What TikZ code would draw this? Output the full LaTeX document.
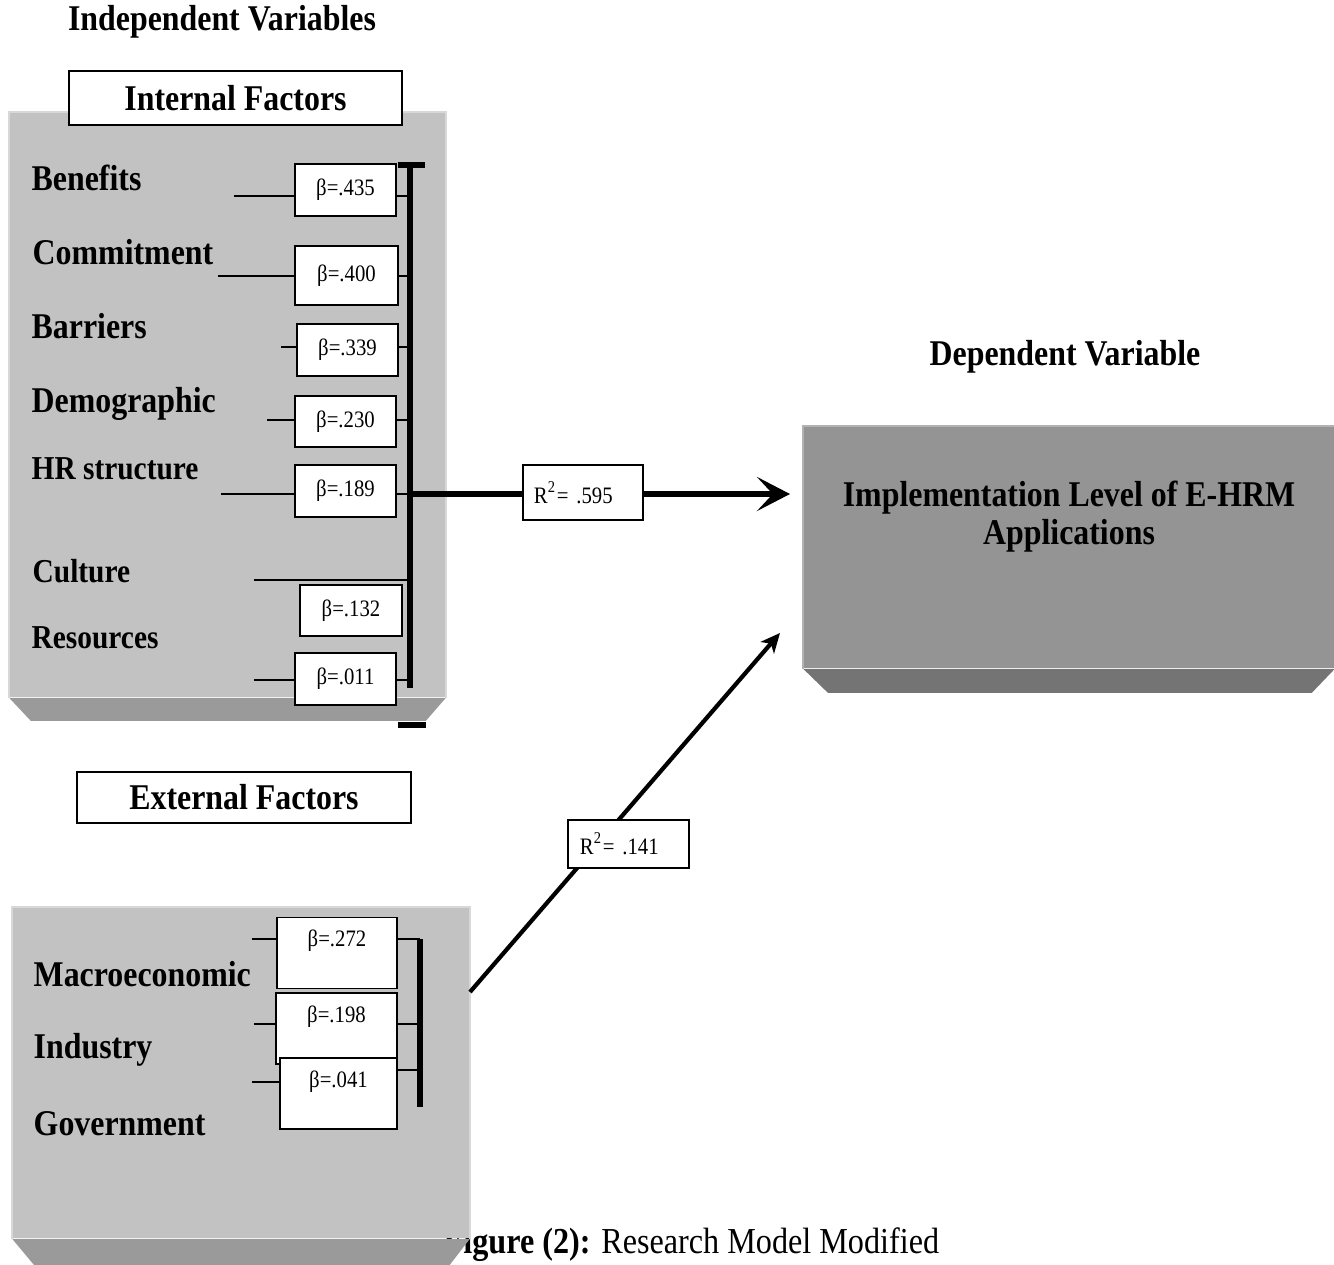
\documentclass[tikz,border=0pt]{standalone}
\usepackage{fontspec}
\setmainfont{Liberation Serif}[FakeStretch=0.88]
\usepackage{xcolor}
\usetikzlibrary{arrows.meta,positioning}

\definecolor{panelgray}{HTML}{C2C2C2}
\definecolor{panelshade}{HTML}{9A9A9A}
\definecolor{panellight}{HTML}{D8D8D8}
\definecolor{depgray}{HTML}{949494}
\definecolor{depshade}{HTML}{747474}
\newcommand{\factorfont}{\fontsize{10.3}{10.8}\selectfont\bfseries}
\newcommand{\smallfactorfont}{\fontsize{9.5}{10.8}\selectfont\bfseries}
\newcommand{\coeffont}{\fontsize{6.7}{8}\selectfont}
\newcommand{\capfont}{\fontsize{10.4}{12}\selectfont}

\begin{document}
\begin{tikzpicture}[
    x=0.01cm, y=-0.01cm,
    panel/.style={fill=panelgray, inner sep=0pt},
    betabox/.style={draw, fill=white, line width=0.5pt, inner sep=0pt, font=\coeffont},
    topbeta/.style={betabox, text height=0.29cm, text depth=0.42cm},
    rbox/.style={draw, fill=white, line width=0.5pt, inner ysep=0pt, align=left, font=\coeffont},
    titlebox/.style={draw, fill=white, line width=0.5pt, inner sep=0pt, font=\factorfont},
    heading/.style={anchor=base, inner sep=0pt, font=\factorfont},
    factor/.style={anchor=base west, inner sep=0pt, font=\factorfont},
    smallfactor/.style={factor, font=\smallfactorfont},
    link/.style={line width=0.6pt},
    bar/.style={line width=1.45pt},
    arrow/.style={-{Stealth[length=9.4pt, width=9.7pt, inset=4.5pt]}, line width=1.45pt},
    slant/.style={-{Stealth[length=5.5pt, width=5pt, inset=1.5pt]}, line width=1.2pt}
  ]
    \useasboundingbox (0,0) rectangle (1334,1264);

    % caption sits under the lower panel
    \node[font=\capfont, anchor=base west, inner sep=0pt] (caption) at (443,1253) {\textbf{Figure (2):} Research Model Modified};

    % panels
    \node[panel, minimum width=4.35cm, minimum height=5.84cm] (intpanel) at (227.5,405) {};
    \fill[panelshade] (intpanel.south west) -- (intpanel.south east) -- ++(-20,23) -- ++(-395,0) -- cycle;
    \draw[panellight, line width=0.7pt] (intpanel.south west) -- (intpanel.north west) -- (intpanel.north east) -- (intpanel.south east);

    \node[panel, minimum width=4.56cm, minimum height=3.30cm] (extpanel) at (241,1073) {};
    \fill[panelshade] (extpanel.south west) -- (extpanel.south east) -- ++(-20,26) -- ++(-416,0) -- cycle;
    \draw[panellight, line width=0.7pt] (extpanel.south west) -- (extpanel.north west) -- (extpanel.north east) -- (extpanel.south east);

    \node[fill=depgray, inner sep=0pt, minimum width=5.30cm, minimum height=2.41cm] (deppanel) at (1069,547.5) {};
    \fill[depshade] (deppanel.south west) -- (deppanel.south east) -- ++(-23,24) -- ++(-484,0) -- cycle;
    \draw[gray!60, line width=0.7pt] (deppanel.south west) -- (deppanel.north west) -- (deppanel.north east);

    % headings
    \node[heading] (indep) at (222,31) {Independent Variables};
    \node[heading] (dep) at (1065,366) {Dependent Variable};
    \node[titlebox, minimum width=3.33cm, minimum height=0.54cm] (internal) at (235.5,98) {Internal Factors};
    \node[titlebox, minimum width=3.34cm, minimum height=0.51cm] (external) at (244,797.5) {External Factors};
    \node[font=\factorfont, align=center] (deptext) at (1069,517) {Implementation Level of E-HRM\\Applications};

    % internal factors
    \node[factor] (benefits) at (31,191) {Benefits};
    \node[factor] (commitment) at (32,265) {Commitment};
    \node[factor] (barriers) at (31,338) {Barriers};
    \node[factor] (demographic) at (31,412) {Demographic};
    \node[smallfactor] (hrstructure) at (31,479) {HR structure};
    \node[smallfactor] (culture) at (32,582) {Culture};
    \node[smallfactor] (resources) at (31,648) {Resources};

    \node[betabox, minimum width=1.01cm, minimum height=0.52cm] (b435) at (345.5,190) {β=.435};
    \node[betabox, minimum width=1.03cm, minimum height=0.59cm] (b400) at (346.5,275.5) {β=.400};
    \node[betabox, minimum width=1.01cm, minimum height=0.52cm] (b339) at (347.5,350) {β=.339};
    \node[betabox, minimum width=1.01cm, minimum height=0.51cm] (b230) at (345.5,421.5) {β=.230};
    \node[betabox, minimum width=1.01cm, minimum height=0.52cm] (b189) at (345.5,491) {β=.189};
    \node[betabox, minimum width=1.02cm, minimum height=0.51cm] (b132) at (351,610.5) {β=.132};
    \node[betabox, minimum width=1.01cm, minimum height=0.52cm] (b011) at (345.5,679) {β=.011};

    \coordinate (bartop) at (410,165);
    \coordinate (barbot) at (410,688);
    \coordinate (hub) at (410,494);
    \draw[bar] (bartop) -- (barbot);
    \draw[bar, line width=1.75pt] (bartop) ++(-12,0) -- ++(27,0);
    \draw[bar, line width=1.75pt] (398,725) -- (426,725);

    \coordinate (t435) at (234,196);
    \coordinate (t400) at (218,276);
    \coordinate (t339) at (281,347);
    \coordinate (t230) at (267,420);
    \coordinate (t189) at (221,494);
    \coordinate (tculture) at (254,580);
    \coordinate (t011) at (254,680);
    \draw[link] (t435) -- (t435 -| b435.west) (b435.east |- t435) -- (t435 -| bartop);
    \draw[link] (t400) -- (t400 -| b400.west) (b400.east |- t400) -- (t400 -| bartop);
    \draw[link] (t339) -- (t339 -| b339.west) (b339.east |- t339) -- (t339 -| bartop);
    \draw[link] (t230) -- (t230 -| b230.west) (b230.east |- t230) -- (t230 -| bartop);
    \draw[link] (t189) -- (t189 -| b189.west) (b189.east |- t189) -- (t189 -| bartop);
    \draw[link] (tculture) -- (tculture -| bartop);
    \draw[link] (t011) -- (t011 -| b011.west) (b011.east |- t011) -- (t011 -| bartop);

    % external factors
    \node[factor] (macro) at (33,986) {Macroeconomic};
    \node[factor] (industry) at (33,1058) {Industry};
    \node[factor] (government) at (33,1135) {Government};

    \node[topbeta, minimum width=1.20cm] (b272) at (337,953) {β=.272};
    \node[topbeta, minimum width=1.21cm] (b198) at (336.5,1028.5) {β=.198};
    \node[topbeta, minimum width=1.17cm] (b041) at (338.5,1093.5) {β=.041};

    \coordinate (ebartop) at (420,939);
    \coordinate (ebarbot) at (420,1107);
    \draw[bar] (ebartop) -- (ebarbot);

    \coordinate (t272) at (252,939);
    \coordinate (t198) at (254,1024);
    \coordinate (t041) at (252,1082);
    \coordinate (r041) at (420,1070);
    \draw[link] (t272) -- (t272 -| b272.west) (b272.east |- t272) -- (ebartop);
    \draw[link] (t198) -- (t198 -| b198.west) (b198.east |- t198) -- (t198 -| ebartop);
    \draw[link] (t041) -- (t041 -| b041.west) (r041 -| b041.east) -- (r041);

    % paths to the dependent variable
    \coordinate (tipa) at (790,494);
    \coordinate (eout) at (470,992);
    \coordinate (tipb) at (780,633);
    \draw[arrow] (hub) -- (tipa);
    \draw[slant] (eout) -- (tipb);

    \node[rbox, text width=0.98cm, inner xsep=0.11cm, minimum height=0.55cm] (r595) at (583,492.5) {R\textsuperscript{2}= .595};
    \node[rbox, text width=0.97cm, inner xsep=0.12cm, minimum height=0.48cm] (r141) at (628.5,844) {R\textsuperscript{2}= .141};
\end{tikzpicture}
\end{document}
